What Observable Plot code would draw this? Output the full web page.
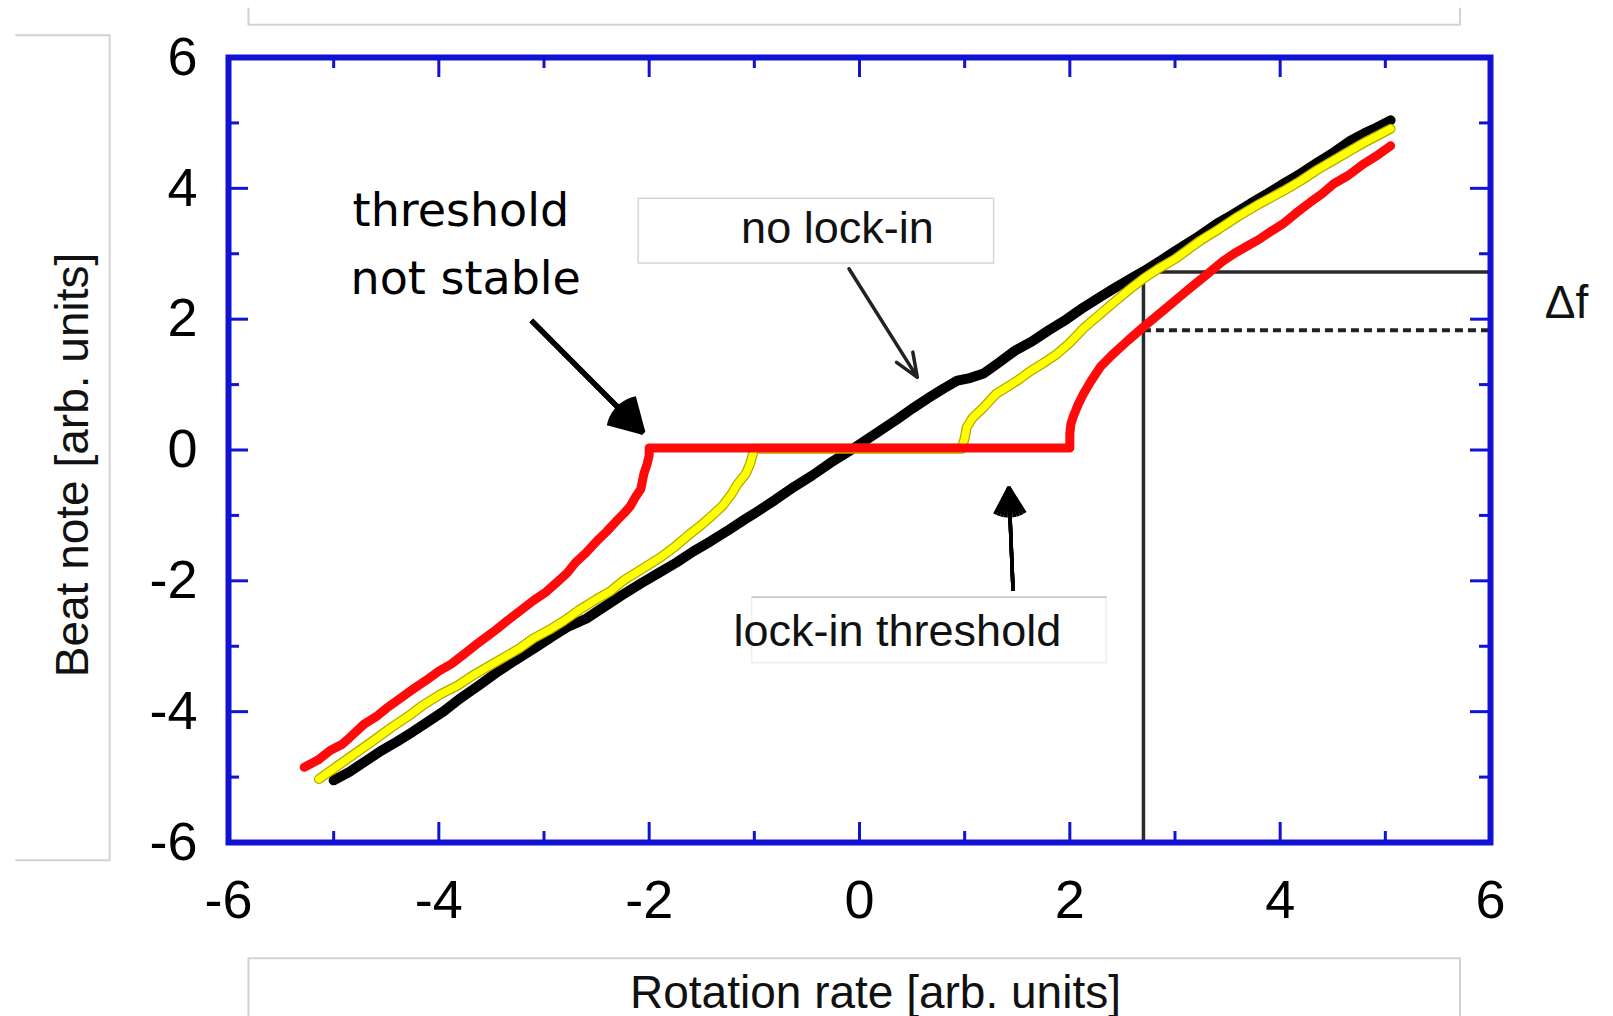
<!DOCTYPE html>
<html>
<head>
<meta charset="utf-8">
<script src="https://cdn.jsdelivr.net/npm/d3@7"></script>
<script src="https://cdn.jsdelivr.net/npm/@observablehq/plot@0.6"></script>
<style>
  html, body { margin: 0; padding: 0; background: #ffffff; }
  #chart svg { display: block; }
</style>
</head>
<body>
<div id="chart"></div>
<script>
// ---------- Tick values ----------
const xMajor = [-6, -4, -2, 0, 2, 4, 6];
const xMinor = [-5, -3, -1, 1, 3, 5];
const yMajor = [-6, -4, -2, 0, 2, 4, 6];
const yMinor = [-5, -3, -1, 1, 3, 5];

// ---------- Series: no lock-in (black) ----------
const noLockX = [-5.00,-4.85,-4.70,-4.55,-4.40,-4.25,-4.10,-3.95,-3.80,-3.62,
  -3.45,-3.28,-3.10,-2.94,-2.77,-2.60,-2.43,-2.26,-2.08,-1.90,
  -1.74,-1.58,-1.42,-1.26,-1.10,-0.98,-0.80,-0.62,-0.45,-0.28,
  -0.10,0.05,0.20,0.35,0.50,0.65,0.80,0.93,1.05,1.18,
  1.32,1.48,1.64,1.80,1.97,2.13,2.28,2.45,2.60,2.70,
  2.85,3.00,3.20,3.40,3.55,3.72,3.88,4.03,4.20,4.36,
  4.52,4.67,4.80,4.92,5.05];
const noLockY = [-5.05,-4.92,-4.76,-4.60,-4.46,-4.31,-4.15,-3.99,-3.80,-3.60,
  -3.40,-3.22,-3.04,-2.87,-2.70,-2.58,-2.40,-2.22,-2.04,-1.87,
  -1.72,-1.55,-1.40,-1.24,-1.07,-0.95,-0.76,-0.56,-0.39,-0.20,
  -0.02,0.14,0.30,0.46,0.63,0.79,0.94,1.06,1.10,1.17,
  1.33,1.52,1.66,1.83,2.00,2.18,2.33,2.50,2.64,2.73,
  2.88,3.04,3.24,3.46,3.60,3.77,3.92,4.07,4.23,4.40,
  4.56,4.73,4.84,4.93,5.04];

// ---------- Series: small lock-in (yellow) ----------
const smallLockX = [-5.14,-5.00,-4.85,-4.62,-4.45,-4.30,-4.15,-3.98,-3.82,-3.68,
  -3.52,-3.38,-3.24,-3.10,-2.95,-2.81,-2.66,-2.50,-2.37,-2.24,
  -2.08,-1.90,-1.75,-1.61,-1.50,-1.40,-1.30,-1.22,-1.16,-1.08,
  -1.04,-1.00,0.97,1.00,1.02,1.08,1.18,1.30,1.40,1.50,
  1.62,1.75,1.88,2.00,2.13,2.29,2.45,2.58,2.70,2.85,
  3.00,3.24,3.42,3.60,3.80,4.03,4.20,4.35,4.50,4.67,
  4.80,4.92,5.05];
const smallLockY = [-5.03,-4.87,-4.70,-4.44,-4.24,-4.08,-3.90,-3.73,-3.60,-3.45,
  -3.30,-3.17,-3.04,-2.88,-2.75,-2.61,-2.44,-2.28,-2.16,-1.99,
  -1.83,-1.65,-1.47,-1.28,-1.14,-1.00,-0.85,-0.68,-0.52,-0.36,
  -0.21,0.02,0.02,0.18,0.35,0.50,0.65,0.86,0.96,1.06,
  1.20,1.33,1.47,1.64,1.86,2.08,2.30,2.47,2.62,2.78,
  2.92,3.20,3.38,3.57,3.76,3.96,4.12,4.28,4.42,4.58,
  4.70,4.80,4.91];

// ---------- Series: large lock-in (red) ----------
const bigLockX = [-5.28,-5.15,-5.03,-4.92,-4.85,-4.71,-4.60,-4.50,-4.37,-4.24,
  -4.12,-4.00,-3.88,-3.76,-3.65,-3.55,-3.45,-3.35,-3.22,-3.10,
  -2.98,-2.875,-2.78,-2.70,-2.60,-2.49,-2.40,-2.32,-2.24,-2.18,
  -2.13,-2.08,-2.05,-2.02,-2.00,-2.00,2.00,2.00,2.01,2.03,
  2.08,2.13,2.20,2.29,2.40,2.55,2.70,2.88,3.08,3.20,
  3.30,3.45,3.56,3.70,3.80,3.92,4.03,4.15,4.28,4.40,
  4.51,4.65,4.80,4.92,5.05];
const bigLockY = [-4.85,-4.74,-4.59,-4.50,-4.40,-4.19,-4.08,-3.95,-3.80,-3.65,
  -3.52,-3.38,-3.27,-3.12,-2.98,-2.86,-2.74,-2.61,-2.45,-2.30,
  -2.17,-2.02,-1.88,-1.72,-1.57,-1.38,-1.24,-1.10,-0.97,-0.86,
  -0.72,-0.60,-0.36,-0.22,-0.08,0.03,0.03,0.25,0.40,0.50,
  0.70,0.86,1.05,1.27,1.45,1.67,1.88,2.12,2.39,2.55,
  2.68,2.88,3.00,3.13,3.22,3.35,3.46,3.62,3.78,3.92,
  4.07,4.20,4.38,4.50,4.65];

// ---------- Δf construction ----------
const refRate = 2.70;      // rotation rate of the construction line
const refNoLock = 2.72;    // beat note without lock-in
const refLocked = 1.83;    // beat note with lock-in

// ---------- Annotations (data units) ----------
const labelsHand = [
  {text: "threshold", x: -4.82, y: 3.43},
  {text: "not stable", x: -4.84, y: 2.39}
];
const labelsBoxed = [
  {text: "no lock-in", x: -0.21, y: 3.16},
  {text: "lock-in threshold", x: 0.36, y: -2.99}
];
const labelBoxes = [
  {x1: -2.10, x2: 1.28, y1: 3.84, y2: 2.85, stroke: "#d6d6d6"},
  {x1: -1.02, x2: 2.35, y1: -2.25, y2: -3.26, stroke: "#eeeeee"}
];
const arrowsThin = [
  {x1: -0.10, y1: 2.77, x2: 0.55, y2: 1.11}
];
const arrowFilledA = [{x1: -3.12, y1: 1.98, x2: -2.06, y2: 0.27}];
const arrowFilledB = [{x1: 1.46, y1: -2.15, x2: 1.42, y2: -0.57}];
const ghostBoxes = [
  [{x: -5.81, y: 6.75}, {x: -5.81, y: 6.50}, {x: 5.71, y: 6.50}, {x: 5.71, y: 6.75}],
  [{x: -8.02, y: 6.34}, {x: -7.13, y: 6.34}, {x: -7.13, y: -6.27}, {x: -8.02, y: -6.27}],
  [{x: -5.81, y: -8.80}, {x: -5.81, y: -7.77}, {x: 5.71, y: -7.77}, {x: 5.71, y: -8.80}]
];

const zip = (xs, ys) => xs.map((x, i) => ({x, y: ys[i]}));
const noLock = zip(noLockX, noLockY);
const smallLock = zip(smallLockX, smallLockY);
const bigLock = zip(bigLockX, bigLockY);

const BLUE = "#1212d4";
const FRAME_H = 785, FRAME_W = 1262;
const SANS = "Liberation Sans, Arial, Helvetica, sans-serif";
const HAND = "DejaVu Sans, sans-serif";

const filledArrow = (data, sw, hl) => [60, 46, 32, 18, 4].map(a =>
  Plot.arrow(data, {x1: "x1", y1: "y1", x2: "x2", y2: "y2", stroke: "black",
    strokeWidth: sw, headAngle: a, headLength: hl, strokeLinecap: "butt"}));

const chart = Plot.plot({
  width: 1613,
  height: 1016,
  marginLeft: 228,
  marginRight: 123,
  marginTop: 57,
  marginBottom: 174,
  x: {domain: [-6, 6]},
  y: {domain: [-6, 6]},
  style: {background: "#ffffff", color: "black", fontFamily: SANS, overflow: "visible"},
  marks: [
    // remnants of surrounding text boxes
    ...ghostBoxes.map(b => Plot.line(b, {x: "x", y: "y", stroke: "#d2d2d2", strokeWidth: 2})),
    Plot.rect(labelBoxes, {x1: "x1", x2: "x2", y1: "y1", y2: "y2", fill: "white", stroke: d => d.stroke, strokeWidth: 1.5}),
    Plot.ruleY([-2.25], {x1: -1.02, x2: 2.35, stroke: "#c4c4c4", strokeWidth: 1.5}),
    // Δf construction lines
    Plot.ruleX([refRate], {y1: -6, y2: refNoLock, stroke: "#2a2a2a", strokeWidth: 3.5}),
    Plot.ruleY([refNoLock], {x1: refRate, x2: 6, stroke: "#2a2a2a", strokeWidth: 3.5}),
    Plot.ruleY([refLocked], {x1: refRate, x2: 6, stroke: "#222", strokeWidth: 4, strokeDasharray: "8,5"}),
    // curves
    Plot.line(noLock, {x: "x", y: "y", stroke: "black", strokeWidth: 10, strokeLinejoin: "round", strokeLinecap: "round"}),
    Plot.line(smallLock, {x: "x", y: "y", stroke: "#b0aa00", strokeWidth: 10, strokeLinejoin: "round", strokeLinecap: "round"}),
    Plot.line(smallLock, {x: "x", y: "y", stroke: "#ffff00", strokeWidth: 7.5, strokeLinejoin: "round", strokeLinecap: "round"}),
    Plot.line(bigLock, {x: "x", y: "y", stroke: "#ff0a0a", strokeWidth: 9, strokeLinejoin: "round", strokeLinecap: "round"}),
    // frame & inward ticks
    Plot.frame({stroke: BLUE, strokeWidth: 6}),
    Plot.tickX(xMajor, {x: d => d, insetTop: FRAME_H - 20, stroke: BLUE, strokeWidth: 3}),
    Plot.tickX(xMajor, {x: d => d, insetBottom: FRAME_H - 20, stroke: BLUE, strokeWidth: 3}),
    Plot.tickX(xMinor, {x: d => d, insetTop: FRAME_H - 11, stroke: BLUE, strokeWidth: 3}),
    Plot.tickX(xMinor, {x: d => d, insetBottom: FRAME_H - 11, stroke: BLUE, strokeWidth: 3}),
    Plot.tickY(yMajor, {y: d => d, insetRight: FRAME_W - 20, stroke: BLUE, strokeWidth: 3}),
    Plot.tickY(yMajor, {y: d => d, insetLeft: FRAME_W - 20, stroke: BLUE, strokeWidth: 3}),
    Plot.tickY(yMinor, {y: d => d, insetRight: FRAME_W - 11, stroke: BLUE, strokeWidth: 3}),
    Plot.tickY(yMinor, {y: d => d, insetLeft: FRAME_W - 11, stroke: BLUE, strokeWidth: 3}),
    // axes (labels only)
    Plot.axisX(xMajor, {anchor: "bottom", tickSize: 0, tickPadding: 37, fontSize: 54, label: null, tickFormat: d => String(d), fill: "black"}),
    Plot.axisY(yMajor, {anchor: "left", tickSize: 0, tickPadding: 31, fontSize: 54, label: null, tickFormat: d => String(d), fill: "black"}),
    // axis titles
    Plot.text(["Rotation rate [arb. units]"], {frameAnchor: "bottom", dx: 16, dy: 165, textAnchor: "middle", lineAnchor: "bottom", fontSize: 46, fontFamily: SANS, fill: "#111"}),
    Plot.text(["Beat note [arb. units]"], {frameAnchor: "left", dx: -155, dy: 15, rotate: -90, textAnchor: "middle", lineAnchor: "middle", fontSize: 46, fontFamily: SANS, fill: "#111"}),
    Plot.text(["Δf"], {frameAnchor: "right", dx: 76, dy: -132, textAnchor: "middle", lineAnchor: "bottom", fontSize: 46, fontFamily: SANS, fill: "#111"}),
    // annotation texts
    Plot.text(labelsHand, {x: "x", y: "y", text: "text", textAnchor: "start", lineAnchor: "bottom", fontSize: 46, fontFamily: HAND, fill: "black"}),
    Plot.text(labelsBoxed, {x: "x", y: "y", text: "text", textAnchor: "middle", lineAnchor: "bottom", fontSize: 45, fontFamily: SANS, fill: "#111"}),
    // arrows
    Plot.arrow(arrowsThin, {x1: "x1", y1: "y1", x2: "x2", y2: "y2", stroke: "#222", strokeWidth: 3.5, headAngle: 44, headLength: 11}),
    ...filledArrow(arrowFilledA, 5, 11),
    ...filledArrow(arrowFilledB, 3.5, 13)
  ]
});

document.getElementById("chart").appendChild(chart);
</script>
</body>
</html>
